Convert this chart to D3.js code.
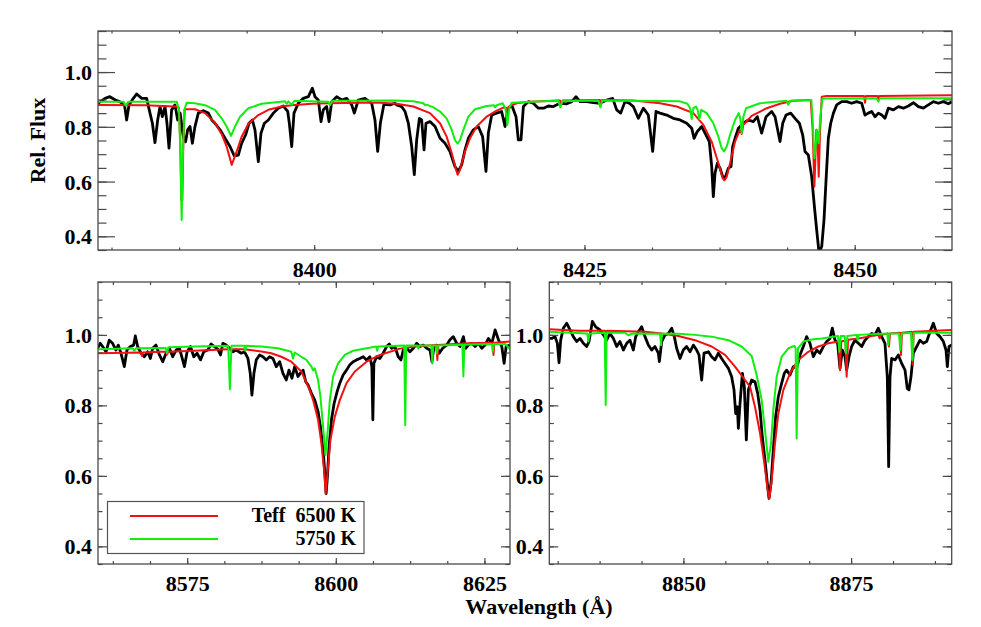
<!DOCTYPE html>
<html><head><meta charset="utf-8">
<script src="https://cdn.jsdelivr.net/npm/d3@7"></script>
<style>
body{margin:0;background:#fff}
svg text{font-family:"Liberation Serif","Times New Roman","DejaVu Serif",serif;font-weight:bold;fill:#000}
</style>
</head><body>
<svg id="chart" width="981" height="627"></svg>
<script>
// ---------- tick labels ----------
const yTicks = [0.4, 0.6, 0.8, 1.0];
const topXTicks = [8400, 8425, 8450];
const leftXTicks = [8575, 8600, 8625];
const rightXTicks = [8850, 8875];
const legendLabels = ["Teff  6500 K", "5750 K"];
const yLabel = "Rel. Flux";
const xLabel = "Wavelength (Å)";

// ---------- top panel (8380-8459 Å) ----------
const topObserved = [[8380.0,0.886],[8380.65,0.904],[8381.1,0.910],[8381.6,0.898],[8382.0,0.892],[8382.45,0.880],[8382.65,0.825],[8382.87,0.880],[8383.27,0.904],[8383.58,0.920],[8384.04,0.904],[8384.5,0.904],[8384.81,0.850],[8385.03,0.813],[8385.27,0.742],[8385.52,0.825],[8385.74,0.874],[8385.95,0.837],[8386.2,0.874],[8386.38,0.813],[8386.57,0.722],[8386.81,0.862],[8387.12,0.880],[8387.37,0.825],[8387.6,0.850],[8387.9,0.760],[8388.1,0.745],[8388.3,0.790],[8388.51,0.801],[8388.73,0.740],[8388.97,0.801],[8389.28,0.850],[8389.74,0.859],[8390.21,0.850],[8390.52,0.825],[8390.82,0.813],[8391.29,0.789],[8391.75,0.758],[8392.21,0.728],[8392.61,0.694],[8392.98,0.697],[8393.29,0.740],[8393.66,0.771],[8393.97,0.813],[8394.28,0.825],[8394.52,0.789],[8394.83,0.673],[8395.08,0.777],[8395.39,0.813],[8395.76,0.825],[8396.22,0.850],[8396.68,0.868],[8397.15,0.876],[8397.55,0.856],[8397.7,0.813],[8397.92,0.728],[8398.13,0.850],[8398.53,0.886],[8398.99,0.904],[8399.46,0.910],[8399.83,0.941],[8400.07,0.910],[8400.38,0.898],[8400.63,0.819],[8400.84,0.862],[8401.15,0.874],[8401.37,0.819],[8401.62,0.892],[8402.08,0.910],[8402.54,0.898],[8403.0,0.904],[8403.47,0.880],[8403.71,0.850],[8404.08,0.898],[8404.7,0.904],[8405.32,0.886],[8405.62,0.825],[8405.87,0.710],[8406.12,0.813],[8406.45,0.882],[8407.01,0.880],[8407.47,0.886],[8407.63,0.880],[8408.09,0.874],[8408.4,0.856],[8408.71,0.813],[8409.02,0.728],[8409.26,0.625],[8409.48,0.752],[8409.73,0.831],[8409.94,0.825],[8410.16,0.716],[8410.34,0.813],[8410.71,0.819],[8411.18,0.801],[8411.64,0.758],[8412.1,0.740],[8412.56,0.710],[8413.02,0.655],[8413.33,0.637],[8413.64,0.661],[8413.95,0.716],[8414.26,0.758],[8414.72,0.789],[8415.18,0.801],[8415.58,0.764],[8415.89,0.637],[8416.11,0.777],[8416.42,0.843],[8416.88,0.850],[8417.34,0.856],[8417.65,0.801],[8417.87,0.862],[8418.27,0.880],[8418.67,0.837],[8418.88,0.752],[8419.13,0.752],[8419.35,0.874],[8419.81,0.892],[8420.27,0.886],[8420.73,0.868],[8421.2,0.868],[8421.66,0.876],[8422.12,0.874],[8422.74,0.886],[8423.36,0.884],[8423.82,0.892],[8424.22,0.910],[8424.59,0.892],[8425.21,0.892],[8425.82,0.888],[8426.44,0.886],[8427.06,0.898],[8427.61,0.904],[8427.98,0.862],[8428.35,0.850],[8428.75,0.892],[8429.15,0.886],[8429.52,0.874],[8429.98,0.831],[8430.45,0.868],[8430.91,0.843],[8431.31,0.710],[8431.62,0.856],[8431.99,0.850],[8432.61,0.843],[8433.22,0.831],[8433.84,0.825],[8434.46,0.813],[8434.92,0.795],[8435.14,0.758],[8435.44,0.783],[8435.85,0.801],[8436.25,0.770],[8436.55,0.746],[8436.77,0.655],[8436.92,0.545],[8437.08,0.631],[8437.29,0.667],[8437.54,0.649],[8437.79,0.618],[8438.0,0.612],[8438.31,0.649],[8438.56,0.655],[8438.71,0.728],[8438.93,0.758],[8439.24,0.795],[8439.7,0.813],[8440.16,0.825],[8440.62,0.819],[8440.99,0.837],[8441.39,0.777],[8441.8,0.837],[8442.32,0.856],[8442.63,0.837],[8443.09,0.746],[8443.34,0.813],[8443.65,0.843],[8444.08,0.850],[8444.48,0.831],[8444.88,0.813],[8445.19,0.770],[8445.4,0.710],[8445.71,0.697],[8446.02,0.618],[8446.27,0.509],[8446.48,0.424],[8446.7,0.340],[8446.95,0.363],[8447.16,0.460],[8447.35,0.606],[8447.56,0.758],[8447.78,0.813],[8448.03,0.850],[8448.33,0.880],[8448.8,0.892],[8449.26,0.892],[8449.72,0.886],[8450.18,0.892],[8450.65,0.886],[8450.95,0.843],[8451.26,0.850],[8451.57,0.856],[8451.88,0.837],[8452.19,0.850],[8452.5,0.843],[8452.8,0.831],[8453.11,0.868],[8453.58,0.862],[8454.04,0.874],[8454.5,0.868],[8454.96,0.876],[8455.43,0.888],[8455.89,0.874],[8456.35,0.868],[8456.81,0.880],[8457.28,0.892],[8457.74,0.886],[8458.2,0.892],[8458.66,0.884],[8459.0,0.892]];

const top6500 = [[8380.0,0.880],[8384.35,0.879],[8387.12,0.874],[8387.49,0.869],[8387.62,0.728],[8387.71,0.533],[8387.8,0.533],[8387.89,0.728],[8388.02,0.864],[8388.97,0.864],[8389.9,0.850],[8390.82,0.815],[8391.44,0.773],[8391.9,0.728],[8392.37,0.661],[8392.83,0.710],[8393.29,0.764],[8393.91,0.811],[8394.83,0.843],[8395.76,0.862],[8396.99,0.874],[8397.92,0.879],[8399.77,0.884],[8401.31,0.886],[8404.39,0.888],[8406.09,0.888],[8407.63,0.884],[8409.17,0.874],[8410.71,0.850],[8411.64,0.813],[8412.25,0.764],[8412.72,0.704],[8413.12,0.643],[8413.27,0.625],[8413.49,0.643],[8413.95,0.710],[8414.41,0.758],[8415.03,0.801],[8415.95,0.837],[8416.88,0.859],[8417.56,0.871],[8417.8,0.868],[8417.9,0.843],[8417.99,0.874],[8418.73,0.886],[8419.96,0.892],[8422.74,0.896],[8422.86,0.884],[8422.99,0.896],[8426.44,0.898],[8426.53,0.888],[8426.62,0.898],[8429.5,0.896],[8431.99,0.886],[8433.53,0.874],[8435.07,0.850],[8436.0,0.807],[8436.77,0.746],[8437.39,0.667],[8437.79,0.612],[8437.94,0.604],[8438.16,0.618],[8438.47,0.667],[8438.93,0.746],[8439.39,0.789],[8439.55,0.774],[8439.7,0.807],[8440.47,0.840],[8441.86,0.868],[8443.09,0.884],[8444.32,0.895],[8445.93,0.898],[8446.11,0.789],[8446.27,0.582],[8446.36,0.679],[8446.45,0.789],[8446.55,0.777],[8446.67,0.618],[8446.79,0.777],[8446.95,0.910],[8447.41,0.913],[8450.86,0.913],[8450.95,0.888],[8451.05,0.913],[8452.1,0.913],[8452.19,0.901],[8452.28,0.913],[8458.82,0.915],[8459.0,0.915]];

const top5750 = [[8380.0,0.892],[8382.34,0.892],[8382.56,0.878],[8382.81,0.892],[8387.28,0.892],[8387.49,0.862],[8387.62,0.704],[8387.74,0.460],[8387.86,0.704],[8387.99,0.862],[8388.2,0.888],[8388.97,0.886],[8389.9,0.879],[8390.82,0.862],[8391.44,0.831],[8391.9,0.801],[8392.3,0.767],[8392.67,0.801],[8393.14,0.837],[8393.91,0.868],[8395.14,0.884],[8396.68,0.891],[8397.3,0.893],[8397.45,0.884],[8397.61,0.893],[8397.92,0.880],[8398.16,0.895],[8401.31,0.892],[8401.46,0.879],[8401.68,0.895],[8407.47,0.896],[8409.17,0.893],[8410.1,0.886],[8410.25,0.879],[8410.4,0.881],[8411.02,0.871],[8411.64,0.856],[8412.25,0.831],[8412.72,0.789],[8413.02,0.752],[8413.27,0.738],[8413.49,0.752],[8413.8,0.789],[8414.26,0.837],[8414.88,0.864],[8415.95,0.876],[8416.63,0.879],[8416.73,0.871],[8416.88,0.879],[8417.43,0.886],[8417.68,0.868],[8417.87,0.807],[8418.05,0.868],[8418.27,0.888],[8422.58,0.896],[8422.77,0.871],[8422.95,0.893],[8426.28,0.896],[8426.47,0.871],[8426.65,0.896],[8433.84,0.893],[8434.52,0.884],[8434.77,0.868],[8434.92,0.828],[8435.07,0.868],[8435.32,0.874],[8435.47,0.862],[8435.63,0.828],[8435.81,0.862],[8436.31,0.850],[8436.92,0.813],[8437.39,0.764],[8437.69,0.722],[8437.91,0.710],[8438.16,0.728],[8438.47,0.771],[8438.93,0.825],[8439.27,0.850],[8439.42,0.831],[8439.55,0.777],[8439.7,0.837],[8439.95,0.868],[8441.24,0.886],[8443.71,0.895],[8443.86,0.880],[8444.02,0.895],[8445.99,0.898],[8446.14,0.801],[8446.27,0.685],[8446.39,0.728],[8446.51,0.789],[8446.67,0.740],[8446.82,0.837],[8447.01,0.903],[8452.03,0.904],[8452.19,0.892],[8452.34,0.904],[8459.0,0.904]];

// ---------- lower-left panel (8560-8629 Å) ----------
const leftObserved = [[8559.93,0.962],[8560.38,0.976],[8560.77,0.967],[8561.34,0.952],[8561.9,0.985],[8562.46,0.976],[8563.02,0.957],[8563.41,0.971],[8563.86,0.948],[8564.43,0.910],[8564.87,0.957],[8565.44,0.967],[8566.0,0.971],[8566.28,0.997],[8566.67,0.967],[8567.24,0.948],[8567.8,0.938],[8568.36,0.952],[8568.81,0.933],[8569.2,0.962],[8569.76,0.971],[8570.33,0.943],[8570.89,0.924],[8571.45,0.948],[8572.01,0.962],[8572.57,0.938],[8573.14,0.957],[8573.7,0.962],[8574.09,0.938],[8574.54,0.910],[8574.99,0.952],[8575.55,0.967],[8576.11,0.938],[8576.67,0.948],[8577.24,0.929],[8577.8,0.952],[8578.47,0.957],[8579.03,0.974],[8579.6,0.967],[8580.16,0.959],[8580.61,0.943],[8581.0,0.976],[8581.56,0.971],[8582.12,0.962],[8582.69,0.952],[8583.25,0.957],[8584.09,0.948],[8584.65,0.952],[8585.22,0.933],[8585.61,0.891],[8585.89,0.829],[8586.23,0.891],[8586.62,0.929],[8587.18,0.943],[8587.74,0.938],[8588.3,0.929],[8588.86,0.938],[8589.43,0.933],[8589.99,0.910],[8590.55,0.924],[8591.11,0.891],[8591.67,0.872],[8592.12,0.900],[8592.63,0.877],[8593.08,0.910],[8593.64,0.882],[8594.2,0.895],[8594.49,0.900],[8594.94,0.867],[8595.33,0.858],[8595.9,0.834],[8596.46,0.815],[8597.02,0.782],[8597.41,0.740],[8597.86,0.673],[8598.2,0.598],[8598.37,0.550],[8598.59,0.598],[8598.87,0.683],[8599.27,0.759],[8599.72,0.806],[8600.22,0.839],[8600.67,0.863],[8601.23,0.886],[8601.8,0.900],[8602.36,0.915],[8602.92,0.924],[8603.48,0.929],[8604.04,0.933],[8604.61,0.938],[8605.17,0.929],[8605.73,0.938],[8606.07,0.910],[8606.23,0.759],[8606.4,0.919],[8606.85,0.938],[8607.41,0.933],[8607.97,0.948],[8608.54,0.967],[8608.99,0.974],[8609.38,0.962],[8609.94,0.967],[8610.5,0.938],[8610.95,0.929],[8611.35,0.957],[8611.91,0.962],[8612.47,0.952],[8613.03,0.962],[8613.6,0.976],[8614.16,0.967],[8614.72,0.971],[8615.28,0.962],[8615.84,0.957],[8616.18,0.924],[8616.51,0.967],[8616.96,0.971],[8617.41,0.948],[8617.97,0.962],[8618.65,0.971],[8619.21,0.986],[8619.77,0.995],[8620.33,0.976],[8620.9,0.967],[8621.46,0.995],[8621.85,0.962],[8622.3,0.971],[8622.87,0.976],[8623.43,0.967],[8623.99,0.976],[8624.55,0.962],[8625.11,0.971],[8625.67,0.990],[8626.24,0.976],[8626.8,1.014],[8627.36,0.986],[8627.92,0.967],[8628.31,0.919],[8628.65,0.967],[8629.3,0.971]];

const left6500 = [[8559.93,0.948],[8567.24,0.950],[8567.4,0.940],[8567.57,0.950],[8570.61,0.952],[8571.45,0.952],[8571.62,0.944],[8571.79,0.952],[8576.22,0.955],[8581.84,0.959],[8584.65,0.959],[8587.46,0.953],[8589.15,0.948],[8590.83,0.938],[8592.52,0.924],[8594.2,0.896],[8595.61,0.844],[8596.18,0.815],[8597.02,0.759],[8597.58,0.692],[8598.03,0.617],[8598.31,0.550],[8598.65,0.617],[8599.1,0.702],[8599.83,0.768],[8600.67,0.815],[8601.8,0.863],[8603.2,0.896],[8605.17,0.924],[8607.41,0.943],[8610.78,0.961],[8613.6,0.968],[8616.91,0.971],[8617.08,0.929],[8617.25,0.971],[8622.02,0.976],[8626.35,0.978],[8626.52,0.943],[8626.68,0.978],[8629.3,0.981]];

const left5750 = [[8559.93,0.959],[8565.83,0.962],[8566.11,0.954],[8566.39,0.962],[8571.39,0.963],[8571.62,0.948],[8571.84,0.965],[8576.22,0.967],[8581.9,0.969],[8582.07,0.900],[8582.18,0.846],[8582.29,0.900],[8582.46,0.969],[8584.6,0.969],[8584.76,0.955],[8584.93,0.969],[8587.46,0.967],[8590.27,0.962],[8592.52,0.952],[8592.8,0.933],[8593.08,0.950],[8594.2,0.938],[8595.05,0.929],[8595.9,0.910],[8596.18,0.899],[8596.46,0.905],[8597.02,0.872],[8597.41,0.825],[8597.86,0.740],[8598.26,0.659],[8598.65,0.730],[8598.99,0.815],[8599.55,0.882],[8600.39,0.919],[8601.51,0.943],[8602.92,0.955],[8605.17,0.962],[8606.8,0.967],[8606.96,0.955],[8607.13,0.967],[8611.51,0.970],[8611.68,0.744],[8611.85,0.970],[8613.71,0.970],[8613.87,0.961],[8614.04,0.970],[8616.07,0.970],[8616.23,0.919],[8616.4,0.970],[8616.85,0.970],[8617.02,0.948],[8617.19,0.970],[8621.29,0.972],[8621.46,0.882],[8621.63,0.972],[8626.24,0.974],[8626.4,0.952],[8626.57,0.974],[8628.48,0.974],[8629.3,0.959]];

// ---------- lower-right panel (8830-8890 Å) ----------
const rightObserved = [[8830.0,0.990],[8830.35,0.990],[8830.85,0.995],[8831.2,0.976],[8831.45,0.921],[8831.7,0.985],[8832.09,1.019],[8832.59,1.033],[8833.09,1.014],[8833.58,0.995],[8834.08,0.981],[8834.58,0.990],[8835.08,0.976],[8835.57,0.967],[8835.92,0.981],[8836.42,1.038],[8836.91,1.023],[8837.56,1.014],[8838.06,1.0],[8838.55,0.985],[8839.05,1.004],[8839.55,0.990],[8840.05,0.967],[8840.54,0.981],[8841.04,0.957],[8841.54,0.976],[8842.03,0.985],[8842.53,0.957],[8842.88,0.995],[8843.28,1.009],[8843.77,1.023],[8844.27,0.995],[8844.77,0.971],[8845.26,0.957],[8845.76,0.967],[8846.26,0.948],[8846.41,0.924],[8846.76,0.981],[8847.25,1.0],[8847.75,1.004],[8848.25,1.019],[8848.64,0.995],[8848.99,0.962],[8849.49,0.933],[8849.98,0.957],[8850.48,0.967],[8850.98,0.952],[8851.48,0.971],[8851.97,0.957],[8852.32,0.943],[8852.72,0.872],[8853.07,0.948],[8853.72,0.952],[8854.21,0.938],[8854.71,0.929],[8855.21,0.948],[8855.7,0.933],[8856.2,0.919],[8856.7,0.905],[8857.19,0.881],[8857.54,0.844],[8857.79,0.777],[8858.04,0.796],[8858.19,0.735],[8858.44,0.806],[8858.79,0.891],[8859.08,0.853],[8859.38,0.702],[8859.68,0.844],[8860.17,0.872],[8860.67,0.867],[8861.07,0.834],[8861.42,0.787],[8861.76,0.711],[8862.16,0.645],[8862.51,0.579],[8862.76,0.536],[8863.06,0.579],[8863.4,0.673],[8863.75,0.768],[8864.15,0.825],[8864.65,0.863],[8865.04,0.891],[8865.39,0.900],[8865.89,0.886],[8866.39,0.910],[8866.88,0.905],[8867.38,0.943],[8867.88,0.967],[8868.37,0.995],[8868.87,0.976],[8869.37,0.938],[8869.87,0.957],[8870.36,0.948],[8870.86,0.967],[8871.36,0.981],[8871.85,0.990],[8872.2,1.019],[8872.6,0.985],[8872.99,0.976],[8873.35,0.905],[8873.69,0.957],[8874.09,0.938],[8874.34,0.900],[8874.69,0.938],[8875.08,0.967],[8875.58,0.985],[8876.08,0.976],[8876.58,0.967],[8877.07,0.985],[8877.57,0.995],[8878.07,1.004],[8878.56,1.0],[8879.06,1.019],[8879.56,0.995],[8880.05,0.976],[8880.4,0.881],[8880.6,0.626],[8880.8,0.881],[8881.05,0.933],[8881.55,0.929],[8882.04,0.943],[8882.54,0.919],[8883.04,0.900],[8883.38,0.848],[8883.63,0.844],[8883.93,0.881],[8884.28,0.948],[8884.78,0.967],[8885.27,0.985],[8885.77,0.976],[8886.27,0.981],[8886.77,1.009],[8887.26,1.033],[8887.76,1.004],[8888.26,0.995],[8888.76,0.981],[8889.15,0.957],[8889.35,0.910],[8889.6,0.967],[8890.0,0.971]];

const right6500 = [[8830.0,1.016],[8834.33,1.012],[8838.31,1.012],[8838.46,1.003],[8838.6,1.012],[8844.27,1.009],[8846.76,1.004],[8849.24,0.997],[8851.73,0.985],[8854.21,0.967],[8856.2,0.943],[8857.69,0.910],[8859.18,0.872],[8859.93,0.853],[8860.67,0.796],[8861.42,0.721],[8862.06,0.636],[8862.56,0.560],[8862.81,0.536],[8863.16,0.588],[8863.65,0.692],[8864.15,0.777],[8864.9,0.844],[8865.89,0.891],[8867.13,0.929],[8868.62,0.952],[8870.11,0.967],[8871.61,0.976],[8873.15,0.981],[8873.35,0.900],[8873.54,0.981],[8874.14,0.984],[8874.34,0.881],[8874.54,0.986],[8876.08,0.990],[8879.06,1.0],[8879.26,0.990],[8879.46,1.0],[8880.5,1.004],[8880.65,0.967],[8880.8,1.004],[8882.29,1.006],[8882.44,0.943],[8882.59,1.006],[8884.03,1.009],[8884.18,0.915],[8884.33,1.009],[8890.0,1.014]];

const right5750 = [[8830.0,1.009],[8835.67,1.004],[8835.82,0.981],[8836.02,1.004],[8838.26,1.006],[8838.41,0.801],[8838.55,1.006],[8841.29,1.006],[8841.79,0.999],[8842.38,1.004],[8846.51,1.003],[8846.66,0.971],[8846.81,1.003],[8849.24,1.003],[8851.73,1.0],[8854.21,0.995],[8856.7,0.985],[8858.68,0.967],[8860.17,0.940],[8860.92,0.886],[8861.67,0.815],[8862.16,0.730],[8862.66,0.640],[8863.06,0.692],[8863.4,0.787],[8863.9,0.881],[8864.65,0.938],[8865.64,0.962],[8866.54,0.969],[8866.73,0.962],[8866.88,0.706],[8867.08,0.962],[8867.88,0.981],[8869.12,0.987],[8870.61,0.990],[8873.05,0.997],[8873.25,0.952],[8873.45,0.997],[8874.04,0.997],[8874.24,0.948],[8874.44,0.997],[8875.83,1.0],[8875.98,0.985],[8876.13,1.0],[8880.4,1.004],[8880.55,0.971],[8880.7,1.004],[8882.14,1.004],[8882.34,0.957],[8882.54,1.004],[8883.93,1.006],[8884.13,0.929],[8884.33,1.006],[8890.0,1.006]];

// ---------- layout ----------
const yDomain = [0.35, 1.15];
const panels = [
  {box:[98,31,952,250],    domain:[8380,8459],   ticks:topXTicks,   obs:topObserved,   hot:top6500,   cool:top5750,   yLen:[17,8.5], xLen:[5,2.5]},
  {box:[98,282,510,564],   domain:[8560,8629.3], ticks:leftXTicks,  obs:leftObserved,  hot:left6500,  cool:left5750,  yLen:[9,4.5],  xLen:[6,3]},
  {box:[549.3,282,951.7,564], domain:[8830,8890], ticks:rightXTicks, obs:rightObserved, hot:right6500, cool:right5750, yLen:[9,4.5],  xLen:[6,3]}
];
const axisColor = "#4a4a4a";
const fontSize = 22;
const fontFamily = "'Liberation Serif','Times New Roman','DejaVu Serif',serif";

const svg = d3.select("#chart");
svg.append("rect").attr("width",981).attr("height",627).attr("fill","#fff");

function styleAxis(g){
  g.select(".domain").remove();
  g.selectAll(".tick line").attr("stroke",axisColor).attr("stroke-width",1.2);
  g.attr("font-size",fontSize).attr("font-family",fontFamily).attr("font-weight","bold");
  g.selectAll("text").attr("font-size",fontSize).attr("font-family",fontFamily).attr("font-weight","bold").attr("fill","#000");
}

panels.forEach((p,i)=>{
  const [x0,y0,x1,y1] = p.box;
  const x = d3.scaleLinear().domain(p.domain).range([x0,x1]);
  const y = d3.scaleLinear().domain(yDomain).range([y1,y0]);
  const cid = "clip"+i;
  svg.append("clipPath").attr("id",cid).append("rect")
    .attr("x",x0).attr("y",y0).attr("width",x1-x0).attr("height",y1-y0);

  const line = d3.line().x(d=>x(d[0])).y(d=>y(d[1]));
  const g = svg.append("g").attr("clip-path",`url(#${cid})`);
  g.append("path").datum(p.obs).attr("d",line).attr("fill","none")
    .attr("stroke","#000").attr("stroke-width",2.8).attr("stroke-linejoin","round");
  g.append("path").datum(p.hot).attr("d",line).attr("fill","none")
    .attr("stroke","#f21010").attr("stroke-width",2).attr("stroke-linejoin","round");
  g.append("path").datum(p.cool).attr("d",line).attr("fill","none")
    .attr("stroke","#10ee10").attr("stroke-width",2).attr("stroke-linejoin","round");

  const start = Math.ceil(p.domain[0]/6.25)*6.25;
  const xMinor = d3.range(start, p.domain[1]+1e-6, 6.25);
  const yMinor = d3.range(0.35, 1.1501, 0.05);

  svg.append("g").attr("transform",`translate(0,${y1})`)
    .call(d3.axisBottom(x).tickValues(xMinor).tickFormat("").tickSizeInner(-p.xLen[1]).tickSizeOuter(0)).call(styleAxis);
  svg.append("g").attr("transform",`translate(0,${y1})`)
    .call(d3.axisBottom(x).tickValues(p.ticks).tickFormat(d3.format("d")).tickSizeInner(-p.xLen[0]).tickSizeOuter(0).tickPadding(11)).call(styleAxis);
  svg.append("g").attr("transform",`translate(0,${y0})`)
    .call(d3.axisTop(x).tickValues(xMinor).tickFormat("").tickSizeInner(-p.xLen[1]).tickSizeOuter(0)).call(styleAxis);
  svg.append("g").attr("transform",`translate(0,${y0})`)
    .call(d3.axisTop(x).tickValues(p.ticks).tickFormat("").tickSizeInner(-p.xLen[0]).tickSizeOuter(0)).call(styleAxis);
  svg.append("g").attr("transform",`translate(${x0},0)`)
    .call(d3.axisLeft(y).tickValues(yMinor).tickFormat("").tickSizeInner(-p.yLen[1]).tickSizeOuter(0)).call(styleAxis);
  svg.append("g").attr("transform",`translate(${x0},0)`)
    .call(d3.axisLeft(y).tickValues(yTicks).tickFormat(d3.format(".1f")).tickSizeInner(-p.yLen[0]).tickSizeOuter(0).tickPadding(6)).call(styleAxis)
    .selectAll("text").attr("dy","0.34em");
  svg.append("g").attr("transform",`translate(${x1},0)`)
    .call(d3.axisRight(y).tickValues(yMinor).tickFormat("").tickSizeInner(-p.yLen[1]).tickSizeOuter(0)).call(styleAxis);
  svg.append("g").attr("transform",`translate(${x1},0)`)
    .call(d3.axisRight(y).tickValues(yTicks).tickFormat("").tickSizeInner(-p.yLen[0]).tickSizeOuter(0)).call(styleAxis);

  svg.append("rect").attr("x",x0).attr("y",y0).attr("width",x1-x0).attr("height",y1-y0)
    .attr("fill","none").attr("stroke",axisColor).attr("stroke-width",1.3);

  if(i===1){
    const lg = svg.append("g");
    lg.append("rect").attr("x",107.5).attr("y",501.5).attr("width",256.5).attr("height",52)
      .attr("fill","none").attr("stroke","#555").attr("stroke-width",1.2);
    const colors = ["#f21010","#10ee10"];
    const rowY = [516, 539];
    legendLabels.forEach((lab,k)=>{
      lg.append("line").attr("x1",130).attr("x2",218).attr("y1",rowY[k]).attr("y2",rowY[k])
        .attr("stroke",colors[k]).attr("stroke-width",2);
      lg.append("text").attr("x",356).attr("y",rowY[k]+6).attr("text-anchor","end")
        .attr("font-family",fontFamily).attr("font-weight","bold")
        .attr("font-size",20).style("white-space","pre").text(lab);
    });
  }
});

svg.append("text").attr("transform","translate(45,140.5) rotate(-90)").attr("text-anchor","middle")
  .attr("font-family",fontFamily).attr("font-weight","bold").attr("font-size",fontSize).text(yLabel);
svg.append("text").attr("x",539).attr("y",613.5).attr("text-anchor","middle")
  .attr("font-family",fontFamily).attr("font-weight","bold").attr("font-size",fontSize).text(xLabel);
</script>
</body></html>
